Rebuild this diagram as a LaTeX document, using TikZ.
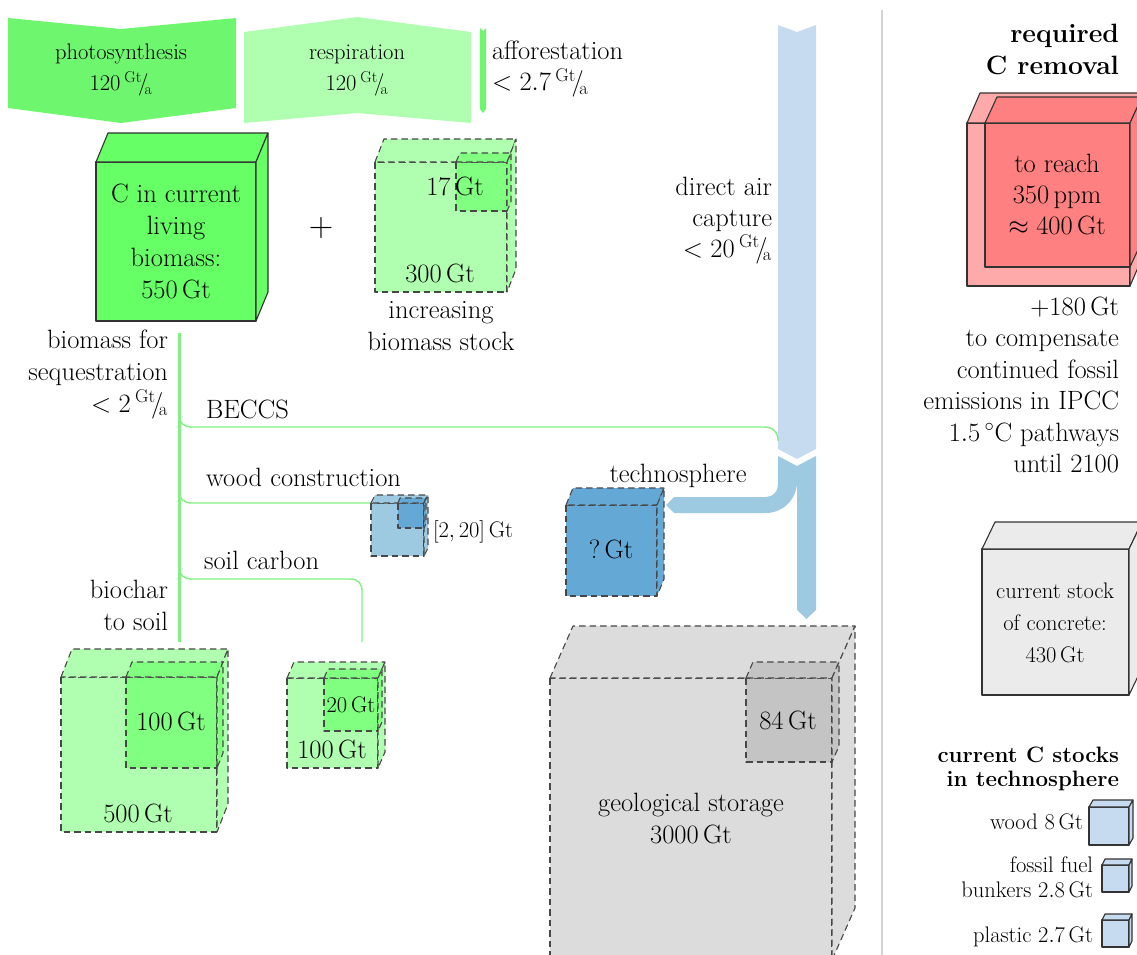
\documentclass[tikz,border=0pt]{standalone}
\usepackage{fix-cm}
\usepackage{fontspec}
\definecolor{cbio}{RGB}{102,255,102}
\definecolor{cphoto}{RGB}{110,246,110}
\definecolor{cresp}{RGB}{176,255,176}
\definecolor{cgout}{RGB}{176,255,176}
\definecolor{cgin}{RGB}{128,255,128}
\definecolor{cgline}{RGB}{130,240,130}
\definecolor{cdac}{RGB}{198,219,239}
\definecolor{cband}{RGB}{158,202,225}
\definecolor{ctech}{RGB}{100,169,214}
\definecolor{csmall}{RGB}{198,219,239}
\definecolor{cgeo}{RGB}{220,220,220}
\definecolor{cgeoin}{RGB}{196,196,196}
\definecolor{cconc}{RGB}{235,235,235}
\definecolor{credout}{RGB}{255,170,170}
\definecolor{credin}{RGB}{255,128,128}
\definecolor{csep}{RGB}{212,212,212}
\newcommand{\gta}{\,{}^{\mathrm{Gt}}\!/\!{}_{\mathrm{a}}}
\newcommand{\cubeat}[7][]{%
  \filldraw[#1] (#2,#3) rectangle (#4,#5);
  \filldraw[#1] (#2,#3) -- ({#2+#6},{#3-#7}) -- ({#4+#6},{#3-#7}) -- (#4,#3) -- cycle;
  \filldraw[#1] (#4,#3) -- ({#4+#6},{#3-#7}) -- ({#4+#6},{#5-#7}) -- (#4,#5) -- cycle;}
\tikzset{
  every node/.style={inner sep=0pt, outer sep=0pt},
  Lt/.style={font=\fontsize{26.5}{32}\selectfont},
  St/.style={font=\fontsize{22.5}{31}\selectfont},
  solidcube/.style={draw=black!80, line width=1.1pt, line join=round},
  dashcube/.style={draw=black!72, line width=1.1pt, line join=round, dash pattern=on 6.5pt off 4pt},
  gline/.style={draw=cgline, line width=1.4pt},
  gmain/.style={draw=cgline, line width=3pt},
}
\begin{document}
\begin{tikzpicture}[x=1pt,y=-1pt]
\path[use as bounding box] (0,0) rectangle (1137,955);
\clip (0,0) rectangle (1137,955);

% ---------- top flows ----------
\fill[cphoto] (8,18) -- (121,29) -- (236,18) -- (236,108) -- (121,123) -- (8,108) -- cycle;
\fill[cresp] (244,32) -- (357,17) -- (471,32) -- (471,123) -- (357,113) -- (244,123) -- cycle;
\fill[cphoto] (480,28) -- (483,31) -- (486,28) -- (486,109) -- (483,113) -- (480,109) -- cycle;

\node[St, align=center, anchor=base] (photo) at (121,91) {photosynthesis\\$120\gta$};
\node[St, align=center, anchor=base] (resp) at (357,91) {respiration\\$120\gta$};
\node[Lt, align=left, anchor=base west, font=\fontsize{26.5}{31}\selectfont] (affo) at (492,91) {afforestation\\$<2.7\gta$};

% ---------- DAC and technosphere flows ----------
\fill[cdac] (778,25) -- (797,32) -- (816,25) -- (816,449) -- (797,459) -- (778,449) -- cycle;
\fill[cband] (778,456) -- (797,466) -- (816,456) -- (816,610) -- (806.5,619) -- (797,610) -- (797,482)
  .. controls (797,499) and (783,513) .. (766,513) -- (674,513) -- (666,505) -- (674,497) -- (766,497)
  .. controls (772.6,497) and (778,491.6) .. (778,485) -- cycle;
\node[Lt, align=right, anchor=base east, font=\fontsize{26.5}{31}\selectfont] (dac) at (772,257) {direct air\\capture\\$<20\gta$};

% ---------- green sequestration lines ----------
\coordinate (gtop) at (179,333);
\coordinate (gbot) at (179,642);
\draw[gmain] (gtop) -- (gbot);
\draw[gline] (179,415) .. controls (179,423) and (184,427) .. (192,427) -- (764,427) .. controls (773,427) and (778,432) .. (778,441);
\draw[gline] (179,491) .. controls (179,499) and (184,503) .. (192,503) -- (371,503);
\draw[gline] (179,567) .. controls (179,575) and (184,579) .. (192,579) -- (350,579) .. controls (358,579) and (362,583) .. (362,591) -- (362,642);

\node[Lt, align=right, anchor=base east] (seq) at (168,412) {biomass for\\sequestration\\$<2\gta$};
\node[Lt, anchor=base west] (beccs) at (206,418) {BECCS};
\node[Lt, anchor=base west] (woodc) at (206,486) {wood construction};
\node[Lt, anchor=base west] (soilc) at (204,569) {soil carbon};
\node[Lt, align=right, anchor=base east] (biochar) at (168,630) {biochar\\to soil};

% ---------- cubes ----------
\cubeat[solidcube, fill=cbio]{96}{162}{256}{321}{12}{29}
\node[Lt, align=center, anchor=base] (living) at (176,298) {C in current\\living\\biomass:\\$550\,$Gt};
\node[font=\fontsize{34}{34}\selectfont] (plus) at (321,228) {$+$};

\cubeat[dashcube, fill=cgout]{375}{162}{507}{292}{9}{23}
\cubeat[dashcube, fill=cgin]{456}{162}{507}{211}{4}{9}
\node[Lt, anchor=base] (g17) at (455,195) {$17\,$Gt};
\node[Lt, anchor=base] (g300) at (440,282) {$300\,$Gt};
\node[Lt, align=center, anchor=base] (incr) at (441,350) {increasing\\biomass stock};

\cubeat[dashcube, fill=cband]{371}{503}{424}{556}{4}{8}
\cubeat[dashcube, fill=ctech]{398}{503}{424}{528}{2}{5}
\node[St, anchor=base west] (woodrange) at (433,537) {$[2,20]\,$Gt};

\cubeat[dashcube, fill=ctech]{566}{505}{657}{596}{7}{17}
\node[Lt, anchor=base] (techno) at (678,482) {technosphere};
\node[Lt, anchor=base] (qgt) at (611,558) {?$\,$Gt};

\cubeat[dashcube, fill=cgeo]{550}{678}{832}{960}{23}{52}
\cubeat[dashcube, fill=cgeoin]{746}{678}{832}{762}{7}{16}
\node[Lt, anchor=base] (g84) at (788,729) {$84\,$Gt};
\node[Lt, align=center, anchor=base] (geo) at (691,843) {geological storage\\$3000\,$Gt};

\cubeat[dashcube, fill=cgout]{61}{677}{217}{832}{11}{28}
\cubeat[dashcube, fill=cgin]{126}{677}{217}{768}{6}{15}
\node[Lt, anchor=base] (g100a) at (171,730) {$100\,$Gt};
\node[Lt, anchor=base] (g500) at (138,822) {$500\,$Gt};

\cubeat[dashcube, fill=cgout]{287}{678}{378}{768}{7}{16}
\cubeat[dashcube, fill=cgin]{324}{678}{378}{731}{4}{9}
\node[St, anchor=base] (g20) at (351,712) {$20\,$Gt};
\node[Lt, anchor=base] (g100b) at (332,758) {$100\,$Gt};

% ---------- right panel ----------
\draw[csep, line width=2pt] (882,10) -- (882,955);
\node[Lt, align=right, anchor=base east, font=\fontsize{26.5}{32}\selectfont\bfseries] (req) at (1119,75) {required\\C removal};
\cubeat[solidcube, fill=credout]{967}{123}{1130}{286}{13}{30}
\cubeat[solidcube, fill=credin]{985}{123}{1130}{267}{12}{26}
\node[Lt, align=center, anchor=base, font=\fontsize{26.5}{31}\selectfont] (reach) at (1057,234) {to reach\\$350\,$ppm\\$\approx 400\,$Gt};
\node[Lt, align=right, anchor=base east, font=\fontsize{26.5}{31.5}\selectfont] (comp) at (1119,472.5) {$+180\,$Gt\\to compensate\\continued fossil\\emissions in IPCC\\$1.5\,^\circ$C pathways\\until 2100};

\cubeat[solidcube, fill=cconc]{982}{549}{1129}{695}{13}{27}
\node[St, align=center, anchor=base, font=\fontsize{22.5}{32}\selectfont] (conc) at (1055,662) {current stock\\of concrete:\\$430\,$Gt};

\node[St, align=right, anchor=base east, font=\fontsize{22.3}{24}\selectfont\bfseries] (cstocks) at (1119,786) {current C stocks\\in technosphere};
\cubeat[solidcube, fill=csmall]{1089}{807}{1129}{845}{4}{7}
\node[St, anchor=base east] (wood8) at (1083,829) {wood $8\,$Gt};
\cubeat[solidcube, fill=csmall]{1102}{865}{1129}{892}{3}{6}
\node[St, align=right, anchor=base east, font=\fontsize{22.5}{25}\selectfont] (fossil) at (1093,897) {fossil fuel\\bunkers $2.8\,$Gt};
\cubeat[solidcube, fill=csmall]{1102}{920}{1129}{947}{3}{6}
\node[St, anchor=base east] (plastic) at (1093,942) {plastic $2.7\,$Gt};
\end{tikzpicture}
\end{document}
